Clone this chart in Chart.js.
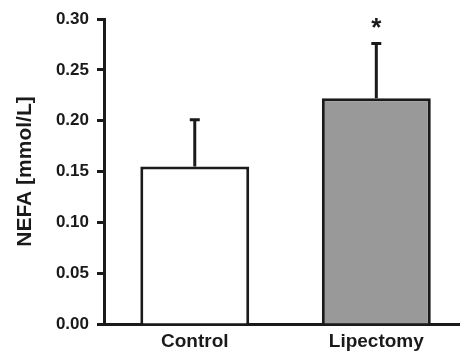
<!DOCTYPE html>
<html>
<head>
<meta charset="utf-8">
<script src="https://cdn.jsdelivr.net/npm/chart.js@4"></script>
<style>
	body { margin: 0; background: #fff; }
	#wrap { width: 460px; height: 353px; }
</style>
</head>
<body>
<div id="wrap"><canvas id="nefaChart"></canvas></div>
<script>
// dữ liệu
const categories = ['Control', 'Lipectomy'];
const means = [0.155, 0.222];
const sdUpper = [0.046, 0.054];
const marks = ['', '*'];
const yTicks = [0.00, 0.05, 0.10, 0.15, 0.20, 0.25, 0.30];

const ink = '#1a1a1a';

// vẽ thanh sai số + dấu sao
const errorBars = {
	id: 'errorBars',
	afterDatasetsDraw(chart) {
		const ctx = chart.ctx;
		const x = chart.scales.x;
		const y = chart.scales.y;
		ctx.save();
		ctx.strokeStyle = ink;
		ctx.fillStyle = ink;
		ctx.lineWidth = 3;
		means.forEach((m, i) => {
			const px = x.getPixelForValue(i);
			const top = y.getPixelForValue(m + sdUpper[i]);
			ctx.beginPath();
			ctx.moveTo(px, y.getPixelForValue(m));
			ctx.lineTo(px, top);
			ctx.moveTo(px - 5, top);
			ctx.lineTo(px + 5, top);
			ctx.stroke();
			if (marks[i]) {
				ctx.font = 'bold 26px "Liberation Sans", Arial, sans-serif';
				ctx.textAlign = 'center';
				ctx.textBaseline = 'alphabetic';
				ctx.fillText(marks[i], px, top - 7);
			}
		});
		ctx.restore();
	}
};

const ctx = document.getElementById('nefaChart').getContext('2d');
new Chart(ctx, {
	type: 'bar',
	data: {
		datasets: [{
			data: means.map((v, i) => ({ x: i, y: v })),
			backgroundColor: ['#ffffff', '#999999'],
			borderColor: ink,
			borderWidth: 3,
			barPercentage: 0.6,
			categoryPercentage: 1
		}]
	},
	options: {
		responsive: true,
		maintainAspectRatio: false,
		animation: false,
		layout: { padding: { top: 19, right: 0, bottom: 0, left: 0 } },
		plugins: {
			legend: { display: false },
			tooltip: { enabled: false }
		},
		scales: {
			x: {
				type: 'linear',
				offset: false,
				min: -0.5,
				max: 1.461,
				afterBuildTicks: s => { s.ticks = categories.map((c, i) => ({ value: i })); },
				afterFit: s => { s.height = 29; },
				grid: { offset: false, drawOnChartArea: false, drawTicks: false },
				border: { color: ink, width: 3 },
				ticks: {
					padding: 6,
					color: ink,
					font: { family: '"Liberation Sans", Arial, sans-serif', size: 19, weight: 'bold' },
					callback: v => categories[v] || ''
				}
			},
			y: {
				min: 0,
				max: 0.30,
				afterBuildTicks: s => { s.ticks = yTicks.map(v => ({ value: v })); },
				afterFit: s => { s.width = 104; },
				grid: { drawOnChartArea: false, tickLength: 7, tickWidth: 3, tickColor: ink },
				border: { color: ink, width: 3 },
				ticks: {
					padding: 8,
					color: ink,
					font: { family: '"Liberation Sans", Arial, sans-serif', size: 17, weight: 'bold' },
					callback: v => v.toFixed(2)
				},
				title: {
					display: true,
					text: 'NEFA [mmol/L]',
					color: ink,
					padding: { top: 13, bottom: 0 },
					font: { family: '"Liberation Sans", Arial, sans-serif', size: 21, weight: 'bold' }
				}
			}
		}
	},
	plugins: [errorBars]
});
</script>
</body>
</html>
